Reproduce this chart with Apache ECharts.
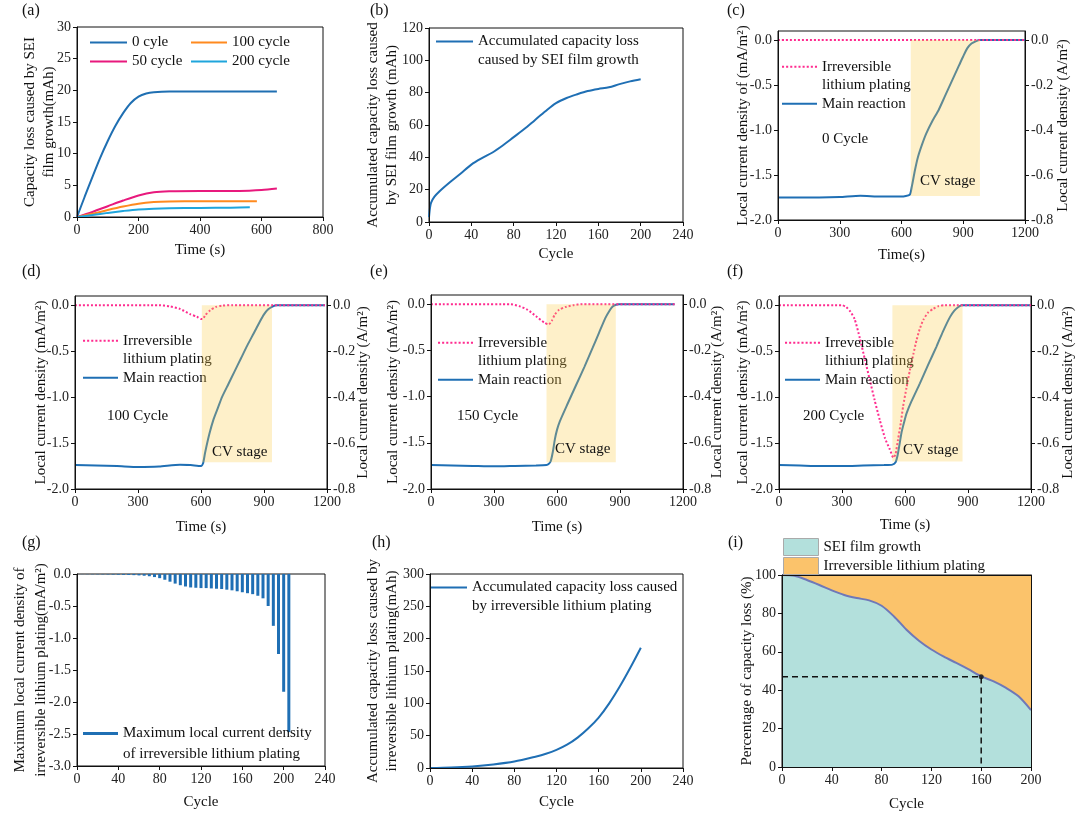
<!DOCTYPE html>
<html><head><meta charset="utf-8">
<script src="https://cdn.jsdelivr.net/npm/echarts@6.0.0/dist/echarts.min.js"></script>
<style>html,body{margin:0;padding:0;background:#fff}#main{width:1080px;height:819px}</style>
</head><body><div id="main"></div>
<script>
// ---------- DATA ----------
// (a) capacity loss by SEI vs time
const aTime0 = [0,25,50,75,100,125,150,175,200,225,250,300,400,500,650];
const aLoss0 = [0,3.2,6.3,9.3,12,14.4,16.4,18,19,19.5,19.7,19.8,19.8,19.8,19.8];
const aTime50 = [0,50,100,150,200,250,300,400,500,560,600,650];
const aLoss50 = [0,0.8,1.7,2.6,3.4,3.9,4.05,4.1,4.1,4.15,4.25,4.5];
const aTime100 = [0,50,100,150,200,250,300,400,500,585];
const aLoss100 = [0,0.5,1.1,1.65,2.1,2.35,2.45,2.5,2.5,2.5];
const aTime200 = [0,50,100,150,200,250,300,400,500,562];
const aLoss200 = [0,0.3,0.65,0.95,1.2,1.32,1.38,1.42,1.48,1.55];
// (b) accumulated SEI loss vs cycle
const bCycle = [0,1,2,5,10,20,30,40,50,60,70,80,90,100,110,120,130,140,150,160,170,180,190,200];
const bLoss = [3,9,12,15.5,19,24.7,30,35.5,39.5,43,47.5,52.5,57.5,63,68.5,73.5,76.7,79,81,82.3,83.3,85.3,87,88.3];
// (c) 0 cycle
const cTime = [0,100,200,300,400,500,600,640,650,665,680,700,720,750,780,810,840,860,880,900,920,940,960,980,1000,1200];
const cMain = [-1.75,-1.75,-1.75,-1.745,-1.73,-1.74,-1.74,-1.72,-1.63,-1.45,-1.3,-1.16,-1.04,-0.9,-0.78,-0.63,-0.48,-0.38,-0.28,-0.18,-0.09,-0.04,-0.015,0,0,0];
const cTimeP = [0,1200];
const cPlate = [0,0];
const cCV = [645,981]; const cCVBottom = -1.733;
// (d) 100 cycle
const dTime = [0,100,200,300,400,500,550,600,610,620,640,660,680,700,730,760,790,820,850,880,900,920,940,960,1000,1190];
const dMain = [-1.74,-1.745,-1.75,-1.76,-1.755,-1.735,-1.74,-1.75,-1.72,-1.6,-1.4,-1.24,-1.12,-1.0,-0.86,-0.72,-0.58,-0.44,-0.31,-0.18,-0.1,-0.045,-0.015,0,0,0];
const dTimeP = [0,400,450,500,550,580,600,608,620,644,670,700,750,1190];
const dPlate = [0,0,-0.012,-0.04,-0.1,-0.125,-0.15,-0.15,-0.11,-0.055,-0.02,-0.005,0,0];
const dCV = [604,938]; const dCVBottom = -1.71;
// (e) 150 cycle
const eTime = [0,100,200,300,400,500,550,560,570,580,590,600,613,650,690,730,770,800,830,850,865,880,895,1160];
const eMain = [-1.74,-1.745,-1.75,-1.755,-1.75,-1.745,-1.74,-1.73,-1.7,-1.6,-1.46,-1.36,-1.27,-1.08,-0.88,-0.68,-0.47,-0.31,-0.15,-0.07,-0.025,-0.005,0,0];
const eTimeP = [0,380,420,460,500,540,560,575,590,610,640,680,720,1160];
const ePlate = [0,0,-0.02,-0.06,-0.13,-0.2,-0.22,-0.18,-0.11,-0.06,-0.03,-0.01,0,0];
const eCV = [550,880]; const eCVBottom = -1.71;
// (f) 200 cycle
const fTime = [0,100,200,300,400,500,540,555,565,575,583,595,607,630,671,710,750,780,814,835,854,870,1200];
const fMain = [-1.74,-1.745,-1.75,-1.75,-1.745,-1.74,-1.735,-1.71,-1.63,-1.5,-1.39,-1.28,-1.18,-1.05,-0.85,-0.65,-0.45,-0.29,-0.13,-0.06,-0.02,0,0];
const fTimeP = [0,300,320,340,360,385,410,432,455,480,505,528,545,555,567,580,591,607,623,640,655,670,687,710,734,760,790,1200];
const fPlate = [0,0,-0.02,-0.07,-0.15,-0.36,-0.6,-0.81,-1.03,-1.25,-1.45,-1.57,-1.66,-1.62,-1.46,-1.28,-1.1,-0.9,-0.71,-0.53,-0.38,-0.26,-0.16,-0.08,-0.04,-0.01,0,0];
const fCV = [540,874]; const fCVBottom = -1.70;
// (g) max local current density of plating
const gCycle = [5,10,15,20,25,30,35,40,45,50,55,60,65,70,75,80,85,90,95,100,105,110,115,120,125,130,135,140,145,150,155,160,165,170,175,180,185,190,195,200,205];
const gValue = [-0.002,-0.003,-0.004,-0.005,-0.006,-0.007,-0.009,-0.011,-0.013,-0.015,-0.018,-0.022,-0.027,-0.035,-0.048,-0.065,-0.09,-0.12,-0.15,-0.175,-0.195,-0.21,-0.215,-0.22,-0.22,-0.225,-0.23,-0.235,-0.245,-0.255,-0.27,-0.285,-0.3,-0.315,-0.34,-0.38,-0.5,-0.81,-1.25,-1.84,-2.47];
// (h) accumulated plating loss
const hCycle = [0,20,40,60,80,100,110,120,130,140,150,160,170,180,190,200];
const hLoss = [0,0.8,2.5,5.5,10,17.5,22,28,36,47,61,78,100,126,155,186];
// (i) percentage of capacity loss
const iCycle = [0,10,20,30,40,50,60,70,80,90,100,110,120,130,140,150,160,170,180,190,200];
const iSEI = [100,99.6,97.4,94.8,92,89.6,88,86.8,84,78.4,71.5,65.8,61.2,57.5,54.2,50.8,47.2,44.6,41.2,36.8,29.6];
const iPlating = [0,0.4,2.6,5.2,8,10.4,12,13.2,16,21.6,28.5,34.2,38.8,42.5,45.8,49.2,52.8,55.4,58.8,63.2,70.4];
const iGuideX = [0,160,160];
const iGuideY = [47,47,0];
const iMarkPoint = [160,47];
// tick settings
const aX = [0,800,200], aY = [0,30,5];
const bX = [0,240,40], bY = [0,120,20];
const tX = [0,1200,300], tYL = [-2,0.1,0.5], tYR = [-0.8,0.04,0.2];
const gX = [0,240,40], gY = [-3,0,0.5];
const hX = [0,240,40], hY = [0,300,50];
const iX = [0,200,40], iY = [0,100,20];

// ---------- STYLE ----------
const FONT = 'Liberation Serif';
const BLUE = '#1f6fb4', PINK = '#ff2b8f', TEAL = '#b3e0dc', ORANGE = '#fbc36b';
const YEL = 'rgba(251,205,70,0.42)';
const zip = (xs, ys) => xs.map((x, i) => [x, ys[i]]);
const f1 = v => v.toFixed(1);
const plain = v => String(v);

const grids = [
  {left:77, top:27, width:246, height:190},
  {left:429, top:28, width:254, height:194},
  {left:778, top:31, width:247, height:189},
  {left:75, top:296, width:252, height:193},
  {left:431, top:295, width:252, height:194},
  {left:779, top:296, width:252, height:193},
  {left:77, top:574, width:248, height:192},
  {left:430, top:574, width:253, height:194},
  {left:782, top:575, width:249, height:192, backgroundColor:ORANGE}
].map(g => Object.assign({show:true, borderColor:'#111', borderWidth:1, backgroundColor:'transparent'}, g));

const nameStyle = (lh) => ({fontFamily:FONT, fontSize:15, color:'#111', lineHeight: lh || 19});
const lab = (fmt) => ({fontFamily:FONT, fontSize:14, color:'#222', margin:6, formatter:fmt});
function xAx(gi, r, name, gap, extra) {
  return Object.assign({type:'value', gridIndex:gi, min:r[0], max:r[1], interval:r[2], z:10,
    name:name, nameLocation:'middle', nameGap:gap, nameMoveOverlap:false, nameTextStyle:nameStyle(),
    axisLine:{show:true, onZero:false, lineStyle:{color:'#111'}},
    axisTick:{show:true, inside:false, length:4, lineStyle:{color:'#111'}},
    axisLabel:lab(plain), splitLine:{show:false}}, extra || {});
}
function yAx(gi, r, name, gap, extra) {
  return Object.assign({type:'value', gridIndex:gi, min:r[0], max:r[1], interval:r[2], z:10,
    name:name, nameLocation:'middle', nameGap:gap, nameRotate:90, nameMoveOverlap:false, nameTextStyle:nameStyle(),
    axisLine:{show:true, onZero:false, lineStyle:{color:'#111'}},
    axisTick:{show:true, inside:false, length:4, lineStyle:{color:'#111'}},
    axisLabel:lab(plain), splitLine:{show:false}}, extra || {});
}
const hideMax = () => ({axisLabel:Object.assign(lab(f1), {showMaxLabel:false})});
const rightHM = () => Object.assign({position:'right'}, hideMax());
const frameOnly = (pos) => ({position:pos, name:'', axisTick:{show:false}, axisLabel:{show:false}});

const xAxis = [
  xAx(0, aX, 'Time (s)', 24),
  xAx(1, bX, 'Cycle', 23),
  xAx(2, tX, 'Time(s)', 26),
  xAx(3, tX, 'Time (s)', 29),
  xAx(4, tX, 'Time (s)', 29),
  xAx(5, tX, 'Time (s)', 27),
  xAx(6, gX, 'Cycle', 27),
  xAx(7, hX, 'Cycle', 25),
  xAx(8, iX, 'Cycle', 28),
  xAx(8, iX, '', 0, frameOnly('top'))      // top frame edge of (i), drawn above the areas
];
const ampR = 'Local current density (A/m²)';
const yAxis = [
  yAx(0, aY, 'Capacity loss caused by SEI\nfilm growth(mAh)', 18),                 //0
  yAx(1, bY, 'Accumulated capacity loss caused\nby SEI film growth (mAh)', 27),    //1
  yAx(2, tYL, 'Local current density of (mA/m²)', 25, hideMax()),                 //2
  yAx(2, tYR, ampR, 29, rightHM()),                                               //3
  yAx(3, tYL, 'Local current density (mA/m²)', 24, hideMax()),                    //4
  yAx(3, tYR, ampR, 27, rightHM()),                                               //5
  yAx(4, tYL, 'Local current density (mA/m²)', 28, hideMax()),                    //6
  yAx(4, tYR, ampR, 25, rightHM()),                                               //7
  yAx(5, tYL, 'Local current density (mA/m²)', 26, hideMax()),                    //8
  yAx(5, tYR, ampR, 28, rightHM()),                                               //9
  yAx(6, gY, 'Maximum local current density of\nirreversible lithium plating(mA/m²)', 25,
      {axisLabel:lab(f1), nameTextStyle:nameStyle(21)}),                           //10
  yAx(7, hY, 'Accumulated capacity loss caused by\nirreversible lithium plating(mAh)', 28), //11
  yAx(8, iY, 'Percentage of capacity loss (%)', 25),                                //12
  yAx(8, iY, '', 0, frameOnly('right'))                                              //13
];

const IRR = 'Irreversible\nlithium plating', MAIN = 'Main reaction';
function line(name, xi, yi, data, color, extra) {
  return Object.assign({type:'line', name:name, xAxisIndex:xi, yAxisIndex:yi, data:data,
    symbol:'none', smooth:0.3, lineStyle:{color:color, width:2}, itemStyle:{color:color}, z:2}, extra || {});
}
function cvArea(xi, yi, cv, bottom) {
  return {type:'line', xAxisIndex:xi, yAxisIndex:yi, data:[[cv[0], bottom],[cv[1], bottom]],
    symbol:'none', lineStyle:{width:0}, areaStyle:{color:YEL, origin:0}, z:5, silent:true};
}
function timePanel(xi, yi, tm, mv, tp, pv, cv, bottom) {
  return [
    line(MAIN, xi, yi, zip(tm, mv), BLUE, {smooth:0.2}),
    line(IRR, xi, yi, zip(tp, pv), PINK, {smooth:0.2, lineStyle:{color:PINK, width:2, type:[2,2]}}),
    cvArea(xi, yi, cv, bottom)
  ];
}

const series = [
  line('0 cyle', 0, 0, zip(aTime0, aLoss0), '#1f6fb2'),
  line('50 cycle', 0, 0, zip(aTime50, aLoss50), '#e8197d'),
  line('100 cycle', 0, 0, zip(aTime100, aLoss100), '#ff8a1f'),
  line('200 cycle', 0, 0, zip(aTime200, aLoss200), '#1fa5dc'),
  line('Accumulated capacity loss\ncaused by SEI film growth', 1, 1, zip(bCycle, bLoss), BLUE),
  ...timePanel(2, 2, cTime, cMain, cTimeP, cPlate, cCV, cCVBottom),
  ...timePanel(3, 4, dTime, dMain, dTimeP, dPlate, dCV, dCVBottom),
  ...timePanel(4, 6, eTime, eMain, eTimeP, ePlate, eCV, eCVBottom),
  ...timePanel(5, 8, fTime, fMain, fTimeP, fPlate, fCV, fCVBottom),
  {type:'bar', name:'Maximum local current density\nof irreversible lithium plating', xAxisIndex:6, yAxisIndex:10,
    data:zip(gCycle, gValue), barWidth:3, itemStyle:{color:BLUE}},
  line('Accumulated capacity loss caused\nby irreversible lithium plating', 7, 11, zip(hCycle, hLoss), BLUE),
  {type:'line', name:'SEI film growth', xAxisIndex:8, yAxisIndex:12, stack:'pct', data:zip(iCycle, iSEI),
    symbol:'none', smooth:0.3, lineStyle:{color:'#6f78b8', width:2}, itemStyle:{color:TEAL},
    areaStyle:{color:TEAL, opacity:1}, z:3},
  {type:'line', name:'Irreversible lithium plating', xAxisIndex:8, yAxisIndex:12, stack:'pct', data:zip(iCycle, iPlating),
    symbol:'none', smooth:false, lineStyle:{width:0}, itemStyle:{color:ORANGE},
    areaStyle:{color:ORANGE, opacity:1}, z:1},
  {type:'line', xAxisIndex:8, yAxisIndex:12, data:zip(iGuideX, iGuideY), symbol:'none',
    lineStyle:{color:'#111', width:1.5, type:[6,4]}, z:4, silent:true},
  {type:'scatter', xAxisIndex:8, yAxisIndex:12, data:[iMarkPoint], symbolSize:5, itemStyle:{color:'#111'}, z:5, silent:true}
];

// legend icons
const SOLID = 'path://M0,0H36V2H0Z';
let dots = 'path://';
for (let i = 0; i < 9; i++) dots += 'M' + (4 * i) + ',0h2v2h-2z';
const legTxt = {fontFamily:FONT, fontSize:15, color:'#111', lineHeight:19};
function leg(left, top, data, extra) {
  return Object.assign({left:left, top:top, orient:'vertical', itemGap:0, itemWidth:36, itemHeight:2,
    symbolKeepAspect:false, padding:0, selectedMode:false, icon:SOLID, textStyle:legTxt, data:data}, extra || {});
}
const pre = n => '\n' + n;  // blank first line keeps the icon level with the first text line
const tpLegend = (left, top) => leg(left, top, [{name:IRR, icon:dots}, {name:MAIN}],
  {itemWidth:35, textStyle:Object.assign({}, legTxt, {lineHeight:18.5}),
   formatter: n => n === IRR ? pre(n) : n});

const legend = [
  leg(90, 33, ['0 cyle', '50 cycle'], {itemWidth:37}),
  leg(191, 33, ['100 cycle', '200 cycle'], {itemWidth:36}),
  leg(436, 13, ['Accumulated capacity loss\ncaused by SEI film growth'], {itemWidth:37, formatter:pre}),
  tpLegend(782, 39),
  tpLegend(83, 313),
  tpLegend(438, 315),
  tpLegend(785, 315),
  leg(83, 702, ['Maximum local current density\nof irreversible lithium plating'],
      {icon:'rect', itemWidth:35, itemHeight:3, formatter:pre, textStyle:Object.assign({}, legTxt, {lineHeight:21})}),
  leg(431, 559, ['Accumulated capacity loss caused\nby irreversible lithium plating'], {itemWidth:36, formatter:pre}),
  leg(783, 538, ['SEI film growth', 'Irreversible lithium plating'],
      {icon:'rect', itemWidth:35, itemHeight:17, itemGap:1, itemStyle:{borderColor:'#aaa', borderWidth:1},
       textStyle:Object.assign({}, legTxt, {lineHeight:18})})
];

const tStyle = {fontFamily:FONT, fontSize:16, fontWeight:'normal', color:'#111'};
const aStyle = {fontFamily:FONT, fontSize:15, fontWeight:'normal', color:'#111'};
const T = (text, left, top, st) => ({text:text, left:left, top:top, padding:0, textStyle:st || tStyle});
const title = [
  T('(a)', 22, 3), T('(b)', 370, 3), T('(c)', 727, 3),
  T('(d)', 22, 264), T('(e)', 370, 264), T('(f)', 727, 264),
  T('(g)', 22, 535), T('(h)', 372, 535), T('(i)', 728, 535),
  T('0 Cycle', 822, 132, aStyle), T('CV stage', 920, 174, aStyle),
  T('100 Cycle', 107, 409, aStyle), T('CV stage', 212, 445, aStyle),
  T('150 Cycle', 457, 409, aStyle), T('CV stage', 555, 442, aStyle),
  T('200 Cycle', 803, 409, aStyle), T('CV stage', 903, 443, aStyle)
];

const chart = echarts.init(document.getElementById('main'), null, {renderer:'canvas'});
chart.setOption({animation:false, backgroundColor:'#fff', title, legend, grid:grids, xAxis, yAxis, series});
</script></body></html>
